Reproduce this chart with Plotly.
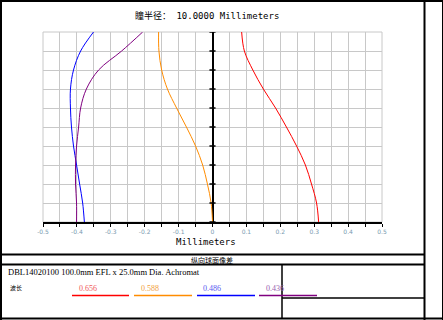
import plotly.graph_objects as go

# ---------------- data ----------------
pupil = [0.0, 0.1, 0.2, 0.3, 0.4, 0.5, 0.6, 0.7, 0.8, 0.9, 1.0]
shift_656 = [0.313, 0.307, 0.292, 0.274, 0.248, 0.218, 0.186, 0.150, 0.119, 0.094, 0.086]
shift_588 = [0.000, -0.004, -0.015, -0.029, -0.050, -0.077, -0.106, -0.133, -0.150, -0.158, -0.159]
shift_486 = [-0.378, -0.383, -0.392, -0.401, -0.410, -0.416, -0.419, -0.419, -0.410, -0.389, -0.351]
shift_436 = [-0.401, -0.401, -0.404, -0.404, -0.401, -0.395, -0.389, -0.372, -0.336, -0.268, -0.206]
wavelengths = ["0.656", "0.588", "0.486", "0.436"]
x_ticks = [-0.5, -0.4, -0.3, -0.2, -0.1, 0.0, 0.1, 0.2, 0.3, 0.4, 0.5]
x_tick_text = ["-0.5", "-0.4", "-0.3", "-0.2", "-0.1", "0", "0.1", "0.2", "0.3", "0.4", "0.5"]
title_text = "瞳半径： 10.0000 Millimeters"
x_title = "Millimeters"
section_title = "纵向球面像差"
lens_text = "DBL14020100 100.0mm EFL x 25.0mm Dia. Achromat"
wl_label = "波长"

line_colors = ["#ff0000", "#ff8c00", "#0000ff", "#800080"]
text_colors = ["#f05a5a", "#f0a040", "#5a5af0", "#9a60b0"]

W, H = 443, 320
L, R, T, B = 43, 382, 32, 222


def px(x):
    return (x - L) / (R - L)


def py(y):
    return (B - y) / (B - T)


fig = go.Figure()
for vals, col in zip([shift_656, shift_588, shift_486, shift_436], line_colors):
    fig.add_trace(go.Scatter(x=vals, y=pupil, mode="lines",
                             line=dict(color=col, width=1, shape="spline"),
                             showlegend=False, hoverinfo="skip"))

shapes = []
# gray border of plot area
shapes.append(dict(type="rect", xref="paper", yref="paper", x0=0, x1=1, y0=0, y1=1,
                   line=dict(color="#c8c8c8", width=1), layer="below"))
# ticks on central axis
for v in pupil:
    shapes.append(dict(type="line", xref="x", yref="y", x0=-0.009, x1=0.009, y0=v, y1=v,
                       line=dict(color="black", width=1.5)))


def hline(y, x0, x1, w=2):
    shapes.append(dict(type="line", xref="paper", yref="paper", x0=px(x0), x1=px(x1),
                       y0=py(y), y1=py(y), line=dict(color="black", width=w)))


def vline(x, y0, y1, w=2):
    shapes.append(dict(type="line", xref="paper", yref="paper", x0=px(x), x1=px(x),
                       y0=py(y0), y1=py(y1), line=dict(color="black", width=w)))


# outer frame
hline(1, 0, 443)
hline(318.5, 0, 443)
vline(1, 0, 320)
vline(424.5, 0, 320)
vline(442.5, 0, 320, 1)
hline(254.5, 0, 424)
hline(264.5, 0, 424)
vline(282, 264, 318, 1.5)
hline(298, 282, 424, 1.5)
# wavelength underlines
for (a, b), col in zip([(72, 129), (134, 192), (197, 255), (259, 317)], line_colors):
    hline(295.5, a, b, 1.5)
    shapes[-1]["line"]["color"] = col

ann = []


def text(x, y, s, size, color="black", family="DejaVu Sans Mono, Noto Sans CJK SC", xanchor="center"):
    ann.append(dict(xref="paper", yref="paper", x=px(x), y=py(y), text=s, showarrow=False,
                    xanchor=xanchor, yanchor="middle", font=dict(size=size, color=color, family=family)))


text(207, 16, title_text, 9)
text(206, 242, x_title, 9)
text(212, 259.5, section_title, 7, family="Noto Sans CJK SC")
text(6, 272, lens_text, 8.5, family="Liberation Serif, Noto Sans CJK SC", xanchor="left")
text(8, 287, wl_label, 6, family="Noto Sans CJK SC", xanchor="left")
for (cx), s, col in zip([88, 150, 212, 275], wavelengths, text_colors):
    text(cx, 288, s, 8, color=col, family="Liberation Serif")

fig.update_layout(
    width=W, height=H,
    margin=dict(l=L, r=W - R, t=T, b=H - B, pad=0),
    paper_bgcolor="white", plot_bgcolor="white",
    shapes=shapes, annotations=ann,
    xaxis=dict(range=[-0.5, 0.5], tickvals=x_ticks, ticktext=x_tick_text,
               showgrid=True, gridcolor="#c8c8c8", gridwidth=1,
               minor=dict(dtick=0.05, showgrid=True, gridcolor="#c8c8c8", ticks="outside",
                          ticklen=3, tickcolor="black"),
               ticks="outside", ticklen=3, tickcolor="black",
               tickfont=dict(size=6, color="#7a9ab0", family="DejaVu Sans"),
               showline=True, linecolor="black", linewidth=1.5,
               zeroline=True, zerolinecolor="black", zerolinewidth=2, fixedrange=True),
    yaxis=dict(range=[0, 1], dtick=0.1, showticklabels=False, showgrid=True,
               gridcolor="#c8c8c8", gridwidth=1, zeroline=False, showline=False, ticks="",
               fixedrange=True),
)

fig.write_html("out.html")
